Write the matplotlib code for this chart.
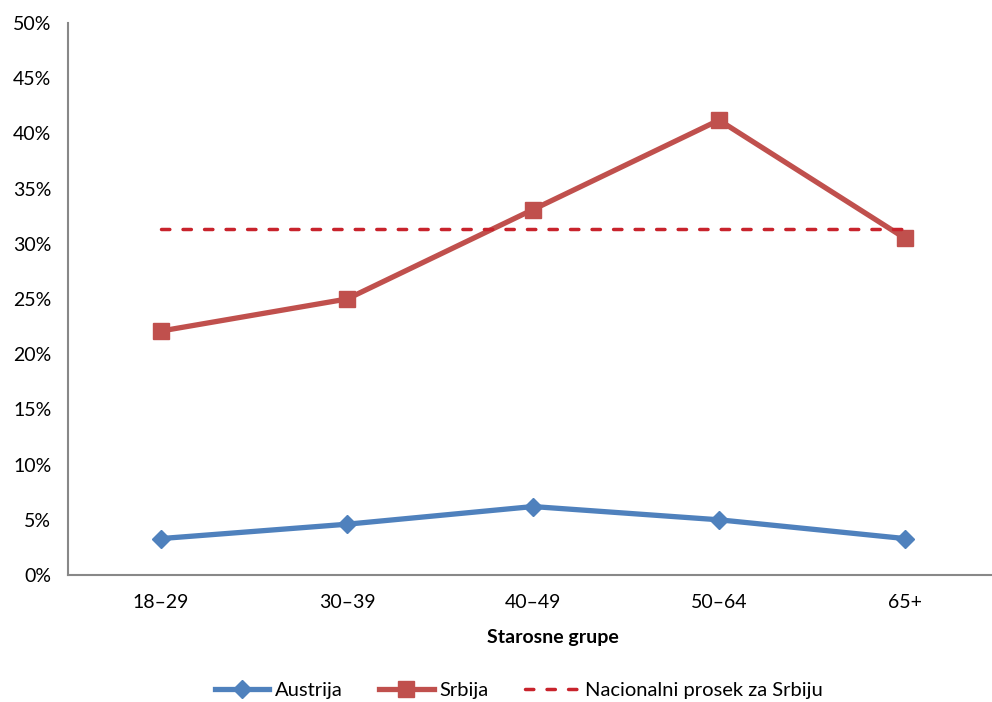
import matplotlib.pyplot as plt
import numpy as np

# data
groups = ['18–29', '30–39', '40–49', '50–64', '65+']
austrija = [3.3, 4.6, 6.2, 5.0, 3.3]
srbija = [22.1, 25.0, 33.1, 41.2, 30.5]
nacionalni_prosek = 31.3

plt.rcParams['font.family'] = ['Lato', 'DejaVu Sans']

fig = plt.figure(figsize=(9.92, 7.02), dpi=100)
ax = fig.add_axes([68 / 992, 1 - 575 / 702, 930 / 992, (575 - 23) / 702])

x = np.arange(len(groups))
ax.plot(x, austrija, color='#4F81BD', lw=3.8, marker='D', ms=9,
        label='Austrija')
ax.plot(x, srbija, color='#C0504D', lw=3.8, marker='s', ms=11,
        label='Srbija')
ax.plot(x, [nacionalni_prosek] * len(x), color='#C8232C', lw=2.5,
        ls=(0, (2.4, 3.8)), dash_capstyle='round',
        label='Nacionalni prosek za Srbiju')

ax.set_xlim(-0.5, len(groups) - 0.5)
ax.set_ylim(0, 50)
ax.set_xticks(x)
ax.set_xticklabels(groups)
ax.set_yticks(np.arange(0, 51, 5))
ax.set_yticklabels([f'{v}%' for v in range(0, 51, 5)])
ax.tick_params(length=0, labelsize=14, pad=14)
ax.tick_params(axis='y', pad=12)

for s in ['top', 'right']:
    ax.spines[s].set_visible(False)
for s in ['left', 'bottom']:
    ax.spines[s].set_color('#888888')
    ax.spines[s].set_linewidth(1.5)

ax.set_xlabel('Starosne grupe', fontsize=14, fontweight='bold')
ax.xaxis.set_label_coords(0.521, -0.097)

fig.legend(loc='center', bbox_to_anchor=(519 / 992, 1 - 690 / 702), ncol=3,
           frameon=False, fontsize=14.5, handlelength=2.7, columnspacing=1.8,
           handletextpad=0.3)

fig.savefig('out.png', dpi=100)
